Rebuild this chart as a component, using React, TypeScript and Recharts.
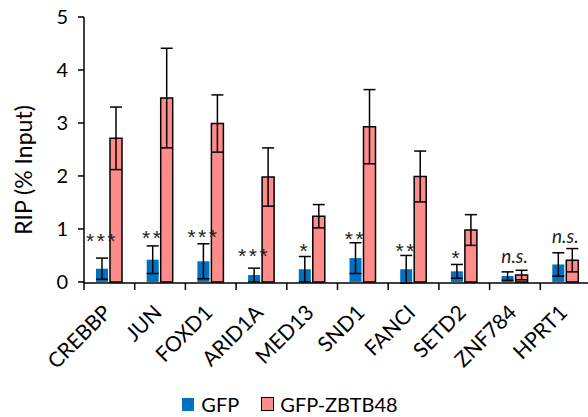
import React from "react";
import {
    BarChart,
    Bar,
    XAxis,
    YAxis,
    ErrorBar,
    LabelList,
    Legend,
} from "recharts";

const FONT = "Lato, 'Open Sans', sans-serif";
const BLUE = "#0070C0";
const PINK = "#FF8B8B";

const categories = ["CREBBP", "JUN", "FOXD1", "ARID1A", "MED13", "SND1", "FANCI", "SETD2", "ZNF784", "HPRT1"];
const gfp = [0.25, 0.42, 0.39, 0.13, 0.24, 0.45, 0.24, 0.2, 0.11, 0.33];
const gfpErr = [0.2, 0.26, 0.33, 0.13, 0.24, 0.29, 0.26, 0.13, 0.08, 0.22];
const zbtb = [2.71, 3.47, 2.99, 1.98, 1.24, 2.93, 1.99, 0.98, 0.13, 0.41];
const zbtbErr = [0.59, 0.94, 0.54, 0.55, 0.22, 0.7, 0.48, 0.29, 0.09, 0.22];
// significance marks and the height (in % input) where they sit
const signif = ["***", "**", "***", "***", "*", "**", "**", "*", "n.s.", "n.s."];
const signifY = [0.86, 0.92, 0.94, 0.58, 0.68, 0.9, 0.68, 0.55, 0.47, 0.85];
const yTicks = [0, 1, 2, 3, 4, 5];

const data = categories.map((name, i) => ({
    name,
    gfp: gfp[i],
    gfpErr: gfpErr[i],
    zbtb: zbtb[i],
    zbtbErr: zbtbErr[i],
}));

const XTick = (props: any) => {
    const { x, y, payload } = props;
    const half = payload?.offset || 25.35;
    return (
        <g>
            <line x1={x - half} x2={x - half} y1={y} y2={y + 7} stroke="#000" strokeWidth={1.5} />
            <text
                transform={`translate(${x + 3},${y + 31}) rotate(-45)`}
                textAnchor="end"
                fontSize={21}
                fontFamily={FONT}
                fill="#000"
            >
                {payload.value}
            </text>
        </g>
    );
};

const SigLabel = (props: any) => {
    const vb = props.viewBox ?? props;
    const { x, y, width, height } = vb;
    const i = props.index;
    if (i == null || !gfp[i]) return null;
    const perUnit = height / gfp[i];
    const base = y + height;
    const cy = base - signifY[i] * perUnit;
    const mark = signif[i];
    if (mark === "n.s.") {
        return (
            <text x={x + width + 1} y={cy + 6} textAnchor="middle" fontSize={19} fontStyle="italic" fontFamily={FONT} fill="#222">
                {mark}
            </text>
        );
    }
    return (
        <text
            x={x + width / 2}
            y={cy + 12}
            textAnchor="middle"
            fontSize={21}
            letterSpacing={2.5}
            fontFamily="'Liberation Sans', Arial, sans-serif"
            fill="#222"
        >
            {mark}
        </text>
    );
};

const renderLegend = () => (
    <div
        style={{
            height: 26,
            display: "flex",
            justifyContent: "center",
            alignItems: "center",
            fontFamily: FONT,
            fontSize: 20,
            color: "#000",
        }}
    >
        <span style={{ width: 12, height: 13, background: BLUE, display: "inline-block", marginRight: 7 }} />
        <span style={{ marginRight: 22 }}>GFP</span>
        <span
            style={{
                width: 11,
                height: 12,
                background: PINK,
                border: "1px solid #000",
                display: "inline-block",
                marginRight: 6,
            }}
        />
        <span>GFP-ZBTB48</span>
    </div>
);

export default function App() {
    return (
        <div style={{ position: "absolute", left: 0, top: 0, width: 588, height: 417, overflow: "hidden", background: "#fff" }}>
            <BarChart
                width={600}
                height={417}
                data={data}
                margin={{ top: 17, right: 9, left: 0, bottom: 0 }}
                barGap={2}
                barSize={12}
            >
                <XAxis
                    dataKey="name"
                    interval={0}
                    height={108}
                    tickSize={0}
                    tickMargin={0}
                    tick={<XTick />}
                    axisLine={{ stroke: "#000", strokeWidth: 1.5 }}
                />
                <YAxis
                    width={84}
                    domain={[0, 5]}
                    ticks={yTicks}
                    tickSize={6}
                    tickMargin={10}
                    axisLine={{ stroke: "#000", strokeWidth: 1.5 }}
                    tickLine={{ stroke: "#000", strokeWidth: 1.5 }}
                    tick={{ fontSize: 20, fontFamily: FONT, fill: "#000" }}
                    label={{
                        content: () => (
                            <text
                                x={23}
                                y={170}
                                transform="rotate(-90 23 170)"
                                textAnchor="middle"
                                dominantBaseline="central"
                                fontSize={23}
                                fontFamily={FONT}
                                fill="#000"
                            >
                                RIP (% Input)
                            </text>
                        ),
                    }}
                />
                <Legend verticalAlign="bottom" content={renderLegend} wrapperStyle={{ left: 0, width: 580 }} />
                <Bar dataKey="gfp" name="GFP" fill={BLUE} isAnimationActive={false}>
                    <ErrorBar dataKey="gfpErr" width={6} stroke="#000" strokeWidth={1.5} />
                    <LabelList dataKey="gfp" content={<SigLabel />} />
                </Bar>
                <Bar dataKey="zbtb" name="GFP-ZBTB48" fill={PINK} stroke="#000" strokeWidth={1.5} isAnimationActive={false}>
                    <ErrorBar dataKey="zbtbErr" width={6} stroke="#000" strokeWidth={1.5} />
                </Bar>
            </BarChart>
        </div>
    );
}
